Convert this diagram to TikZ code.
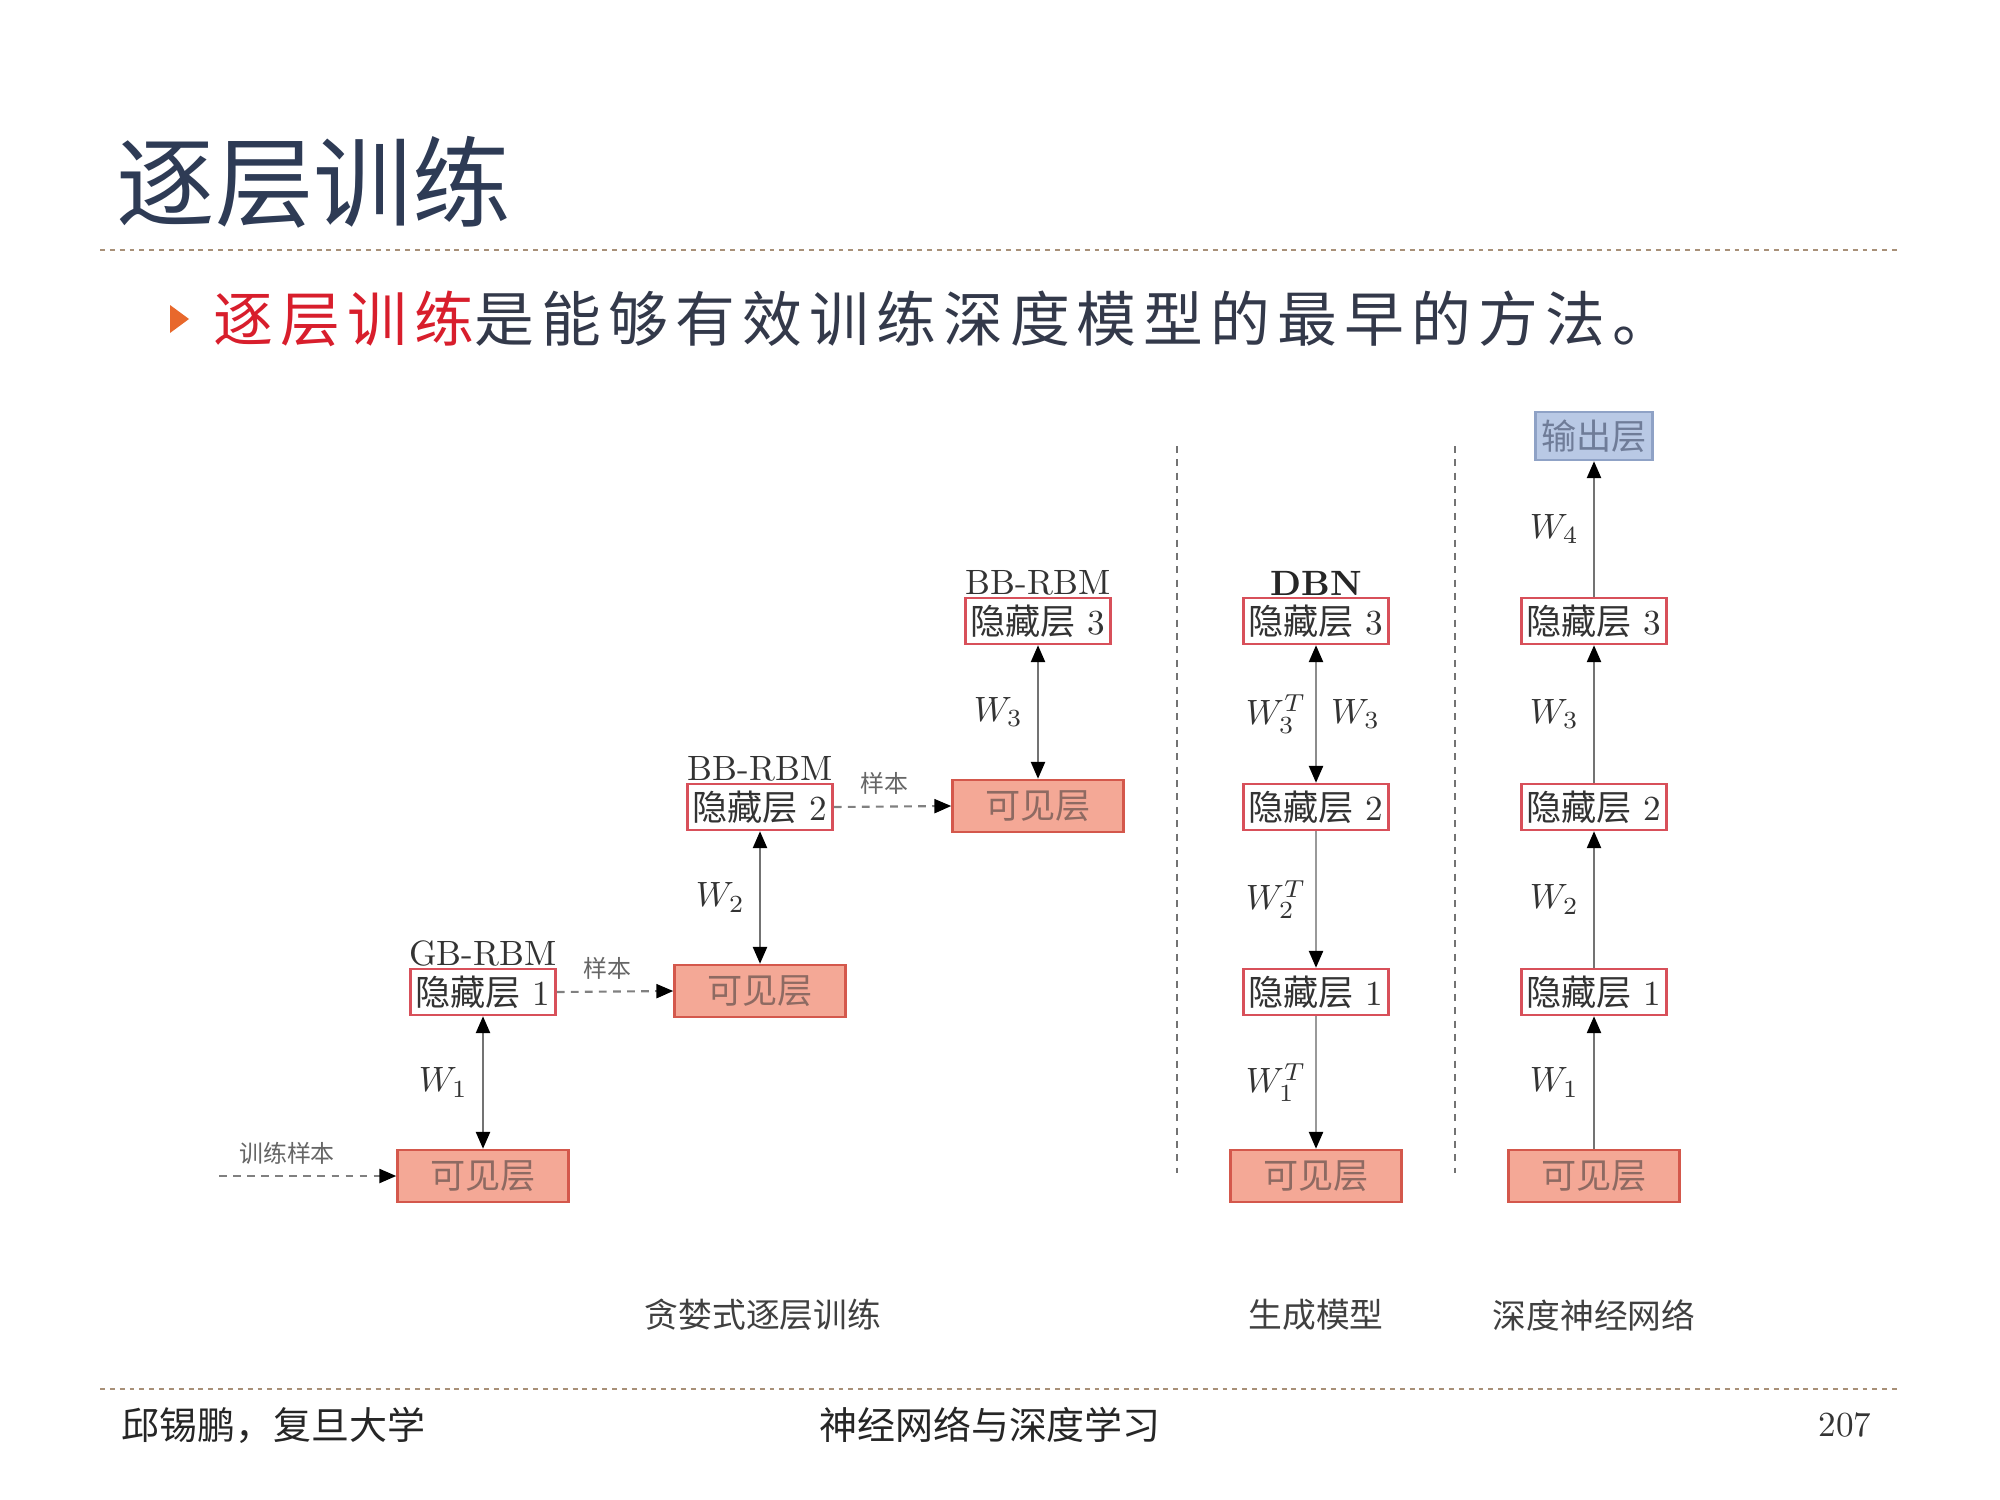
\documentclass[tikz,border=0pt]{standalone}
\usepackage{fontspec}
\usetikzlibrary{arrows.meta}
\newfontfamily\cjk{Noto Sans CJK SC}
\newfontfamily\cjksp[LetterSpace=12]{Noto Sans CJK SC}
\definecolor{titleblue}{HTML}{2E3B55}
\definecolor{bodytext}{HTML}{33394A}
\definecolor{hidred}{HTML}{D8505A}
\definecolor{visfill}{HTML}{F4A896}
\definecolor{visdraw}{HTML}{D4584C}
\definecolor{vistext}{HTML}{8E6A62}
\definecolor{outfill}{HTML}{B9C9E5}
\definecolor{outdraw}{HTML}{8FA2C6}
\definecolor{outtext}{HTML}{6F7C98}
\definecolor{ruleclr}{HTML}{A89078}
\definecolor{bulletclr}{HTML}{E8682C}
\definecolor{redtext}{HTML}{D81E2C}
\newcommand\hidtxt[1]{{\cjk 隐藏层}\ #1}
\begin{document}
\begin{tikzpicture}[x=0.01cm,y=-0.01cm,
  hid/.style={draw=hidred,line width=0.7pt,fill=white,minimum width=1.45cm,minimum height=0.46cm,inner sep=0pt,text=black!80,font=\fontsize{10}{12}\selectfont},
  vis/.style={draw=visdraw,line width=0.7pt,fill=visfill,minimum width=1.71cm,minimum height=0.52cm,inner sep=0pt,text=vistext,font=\cjk\fontsize{10}{12}\selectfont},
  outbox/.style={draw=outdraw,line width=0.7pt,fill=outfill,minimum width=1.17cm,minimum height=0.48cm,inner sep=0pt,text=outtext,font=\cjk\fontsize{10}{12}\selectfont},
  toplab/.style={anchor=south,inner sep=0.3pt,text=black!80,font=\fontsize{10}{12}\selectfont},
  conn/.style={draw=black!55,line width=0.6pt},
  both/.style={conn,{Triangle[length=4.8pt,width=4pt,color=black]}-{Triangle[length=4.8pt,width=4pt,color=black]}},
  fwd/.style={conn,-{Triangle[length=4.8pt,width=4pt,color=black]}},
  samp/.style={draw=black!50,line width=0.6pt,dash pattern=on 2.2pt off 1.8pt,-{Triangle[length=4.8pt,width=4pt,color=black]}},
  wl/.style={inner sep=4pt,text=black!80,font=\fontsize{10}{12}\selectfont},
  wt/.style={inner sep=2.5pt,text=black!80,font=\fontsize{10}{12}\selectfont},
  smlab/.style={inner sep=0pt,text=black!60,font=\cjk\fontsize{6.8}{8}\selectfont},
  captxt/.style={inner sep=0pt,text=black!75,font=\cjk\fontsize{9.6}{11}\selectfont},
  vsep/.style={draw=black!55,line width=0.5pt,dash pattern=on 2pt off 1.8pt},
  hrule/.style={draw=ruleclr,line width=0.5pt,dash pattern=on 1.4pt off 1.4pt}
]
\useasboundingbox[fill=white] (0,0) rectangle (2000,1500);

% title and rules
\node[anchor=west,inner sep=0pt,text=titleblue,font=\cjk\fontsize{28}{30}\selectfont] (title) at (116,182) {逐层训练};
\coordinate (rtl) at (100,250); \coordinate (rtr) at (1900,250);
\draw[hrule] (rtl) -- (rtr);
\coordinate (rbl) at (100,1389); \coordinate (rbr) at (1900,1389);
\draw[hrule] (rbl) -- (rbr);

% bullet
\fill[bulletclr] (170,305) -- (189,319) -- (170,333) -- cycle;
\node[anchor=west,inner sep=0pt,text=bodytext,font=\cjksp\fontsize{17}{19}\selectfont] (bullet) at (213,319) {\textcolor{redtext}{逐层训练}是能够有效训练深度模型的最早的方法。};

% greedy layer-wise column 1
\node[vis] (v1) at (483,1176) {可见层};
\node[hid] (h1) at (483,992) {\hidtxt{1}};
\node[toplab] (l1) at (h1.north) {GB-RBM};
\draw[both] (v1.north) -- node[wl,left]{$W_1$} (h1.south);
\coordinate (trs) at (219,1176);
\draw[samp] (trs) -- (v1.west);
\node[smlab] (trl) at (287,1153) {训练样本};

% column 2
\node[vis] (v2) at (760,991) {可见层};
\node[hid] (h2) at (760,807) {\hidtxt{2}};
\node[toplab] (l2) at (h2.north) {BB-RBM};
\draw[both] (v2.north) -- node[wl,left]{$W_2$} (h2.south);
\draw[samp] (h1.east) -- (v2.west);
\node[smlab] (s1) at (607,968) {样本};

% column 3
\node[vis] (v3) at (1038,806) {可见层};
\node[hid] (h3) at (1038,621) {\hidtxt{3}};
\node[toplab] (l3) at (h3.north) {BB-RBM};
\draw[both] (v3.north) -- node[wl,left]{$W_3$} (h3.south);
\draw[samp] (h2.east) -- (v3.west);
\node[smlab] (s2) at (884,783) {样本};

\node[captxt] (c1) at (763,1315) {贪婪式逐层训练};

% separators
\coordinate (sa1) at (1177,446); \coordinate (sa2) at (1177,1173);
\draw[vsep] (sa1) -- (sa2);
\coordinate (sb1) at (1455,446); \coordinate (sb2) at (1455,1173);
\draw[vsep] (sb1) -- (sb2);

% DBN
\node[vis] (dv) at (1316,1176) {可见层};
\node[hid] (dh1) at (1316,992) {\hidtxt{1}};
\node[hid] (dh2) at (1316,807) {\hidtxt{2}};
\node[hid] (dh3) at (1316,621) {\hidtxt{3}};
\node[toplab,font=\bfseries\fontsize{10}{12}\selectfont,text=black!85] (dl) at (dh3.north) {DBN};
\draw[both,draw=black!45] (dh2.north) -- node[wt,left]{$W_3^T$} node[wl,right]{$W_3$} (dh3.south);
\draw[fwd,draw=black!40] (dh2.south) -- node[wt,left]{$W_2^T$} (dh1.north);
\draw[fwd,draw=black!40] (dh1.south) -- node[wt,left]{$W_1^T$} (dv.north);
\node[captxt] (c2) at (1316,1315) {生成模型};

% DNN
\node[vis] (nv) at (1594,1176) {可见层};
\node[hid] (nh1) at (1594,992) {\hidtxt{1}};
\node[hid] (nh2) at (1594,807) {\hidtxt{2}};
\node[hid] (nh3) at (1594,621) {\hidtxt{3}};
\node[outbox] (no) at (1594,436) {输出层};
\draw[fwd] (nv.north) -- node[wl,left]{$W_1$} (nh1.south);
\draw[fwd] (nh1.north) -- node[wl,left]{$W_2$} (nh2.south);
\draw[fwd] (nh2.north) -- node[wl,left]{$W_3$} (nh3.south);
\draw[fwd] (nh3.north) -- node[wl,left]{$W_4$} (no.south);
\node[captxt] (c3) at (1594,1315) {深度神经网络};

% footer
\node[anchor=west,inner sep=0pt,text=black!85,font=\cjk\fontsize{10.8}{12}\selectfont] (fa) at (121,1425) {邱锡鹏，复旦大学};
\node[inner sep=0pt,text=black!85,font=\cjk\fontsize{10.8}{12}\selectfont] (fb) at (990,1425) {神经网络与深度学习};
\node[anchor=east,inner sep=0pt,text=black!80,font=\fontsize{10}{12}\selectfont] (fc) at (1872,1425) {207};
\end{tikzpicture}
\end{document}
